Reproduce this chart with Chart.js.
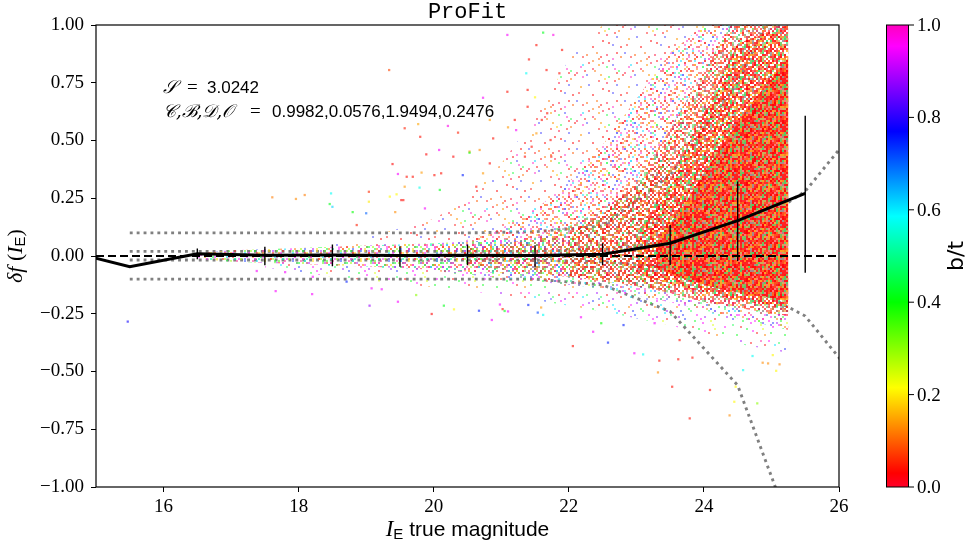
<!DOCTYPE html>
<html><head><meta charset="utf-8">
<script src="https://cdn.jsdelivr.net/npm/chart.js@4.4.0/dist/chart.umd.min.js"></script>
<style>html,body{margin:0;padding:0;background:#fff}#wrap{width:975px;height:542px;position:relative}</style>
</head><body><div id="wrap"><canvas id="c"></canvas></div>
<script>
// ---------------- data ----------------
const xTicks = [16, 18, 20, 22, 24, 26];
const yTicks = [-1, -0.75, -0.5, -0.25, 0, 0.25, 0.5, 0.75, 1];
const yTickLabels = ['\u22121.00','\u22120.75','\u22120.50','\u22120.25','0.00','0.25','0.50','0.75','1.00'];
const cbTicks = [0, 0.2, 0.4, 0.6, 0.8, 1.0];
const cbTickLabels = ['0.0','0.2','0.4','0.6','0.8','1.0'];

// running median of delta f per magnitude bin
const medianMag = [14.5, 15.5, 16.5, 17.5, 18.5, 19.5, 20.5, 21.5, 22.5, 23.5, 24.5, 25.5];
const medianDf  = [0.026, -0.046, 0.010, 0.003, 0.004, 0.002, 0.003, 0.002, 0.008, 0.055, 0.153, 0.271];
// error bars
const errMag = [16.5, 17.5, 18.5, 19.5, 20.5, 21.5, 22.5, 23.5, 24.5, 25.5];
const errHi  = [0.033, 0.040, 0.050, 0.042, 0.050, 0.046, 0.055, 0.134, 0.322, 0.607];
const errLo  = [-0.014, -0.040, -0.044, -0.047, -0.040, -0.050, -0.039, -0.039, -0.022, -0.072];
// dotted percentile curves
const pctMag  = [15.5, 16.5, 17.5, 18.5, 19.5, 20.5, 21.5, 22.5, 23.5, 24.5, 25.5, 26.5];
const outerUp = [0.10, 0.10, 0.10, 0.10, 0.10, 0.10, 0.105, 0.13, 0.35, 0.75, 1.35, 2.0];
const innerUp = [0.02, 0.02, 0.02, 0.02, 0.02, 0.02, 0.02, 0.03, 0.06, 0.09, 0.28, 0.64];
const innerLo = [-0.017, -0.017, -0.017, -0.017, -0.017, -0.017, -0.018, -0.025, -0.05, -0.105, -0.26, -0.62];
const outerLo = [-0.10, -0.10, -0.10, -0.10, -0.10, -0.10, -0.10, -0.125, -0.24, -0.56, -1.35, -2.1];
// zero reference
const refMag = [15, 26];
const refDf  = [0, 0];

// density envelopes of the point cloud
const haloUpMag = [18.5, 19, 20, 20.5, 21, 21.5, 22, 22.5, 25.25];
const haloUpTop = [0.05, 0.08, 0.16, 0.25, 0.40, 0.60, 0.85, 1.0, 1.0];
const haloLoMag = [17.5, 18.5, 19.5, 20.5, 21.5, 22.5, 23.5, 24.5, 25.25];
const haloLoBot = [-0.05, -0.09, -0.12, -0.15, -0.19, -0.24, -0.30, -0.38, -0.42];
const medUpMag = [20, 20.5, 21, 21.5, 22, 22.5, 23, 23.5, 24, 25.25];
const medUpTop = [0.04, 0.07, 0.12, 0.20, 0.32, 0.48, 0.68, 0.88, 1.0, 1.0];
const medLoMag = [19.5, 20.5, 21.5, 22.5, 23.5, 24.5, 25.25];
const medLoBot = [-0.05, -0.08, -0.11, -0.14, -0.20, -0.27, -0.32];
const stripMag = [16.5, 17, 18, 19, 20, 21, 22];
const stripTop = [0.012, 0.025, 0.035, 0.045, 0.055, 0.07, 0.09];
const stripBot = [-0.012, -0.025, -0.035, -0.045, -0.06, -0.075, -0.09];
const mixMag = [20.5, 21, 21.5, 22, 22.5, 23, 23.5];
const mixTop = [0.035, 0.05, 0.08, 0.13, 0.20, 0.30, 0.45];
const mixBot = [-0.04, -0.06, -0.075, -0.09, -0.11, -0.13, -0.15];
const denseMag = [22, 22.5, 23, 23.5, 24, 24.4, 25.25];
const denseTop = [0.10, 0.18, 0.32, 0.55, 0.80, 1.0, 1.0];
const denseBot = [-0.09, -0.10, -0.13, -0.16, -0.20, -0.22, -0.26];
const dense2Mag = [23, 23.5, 24, 24.5, 25.25];
const dense2Top = [0.10, 0.32, 0.62, 0.92, 1.0];
const dense2Bot = [-0.08, -0.12, -0.16, -0.19, -0.23];
const coreMag = [23.3, 23.7, 24.2, 24.7, 25.25];
const coreTop = [0.06, 0.22, 0.45, 0.66, 0.86];
const coreBot = [-0.05, -0.10, -0.14, -0.17, -0.19];

// individually visible outlier points (magnitude, delta f, b/t)
const ptsMag = [15.47,17.61,17.96,18.09,18.48,18.46,18.50,18.80,18.86,19.00,19.04,19.04,19.34,19.39,19.47,19.45,19.43,19.52,19.57,19.57,
 19.77,19.80,19.89,19.79,19.87,20.01,20.09,20.21,20.36,20.29,20.43,20.53,20.63,20.73,20.83,20.73,20.08,20.53,20.83,21.09,
 21.10,21.20,21.39,21.50,21.67,21.77,21.90,21.86,21.37,20.88,20.68,20.11,19.60,19.82,19.35,19.55,19.69,21.39,21.22,21.52,
 21.60,21.68,21.73,21.74,21.35,21.45,21.09,21.41,21.52,21.62,
 17.66,18.20,19.05,19.47,19.74,19.97,20.15,20.30,20.67,20.86,20.98,21.02,21.10,21.40,21.54,21.59,17.80,17.38,18.71,18.21,
 19.08,19.23,21.05,21.62,22.06,22.18,22.36,22.48,22.58,22.81,22.97,23.10,23.27,23.34,23.32,23.53,23.62,23.64,23.79,23.83,
 24.09,24.38,24.45,24.58,24.79,24.87,24.95,25.02,25.07,25.12,24.72,24.47];
const ptsDf = [-0.284,0.254,0.247,0.264,0.271,0.225,0.213,0.190,0.134,0.185,0.278,0.235,0.805,0.398,0.355,0.267,0.190,0.242,0.300,0.553,
 0.571,0.516,0.440,0.296,0.206,0.350,0.286,0.563,0.534,0.430,0.350,0.452,0.300,0.358,0.401,0.685,0.459,0.447,0.589,0.711,
 0.557,0.589,0.719,0.687,0.805,0.957,0.892,0.791,0.791,0.509,0.459,0.358,0.343,0.361,0.257,0.242,0.343,0.646,0.545,0.531,
 0.589,0.618,0.502,0.430,0.430,0.473,0.957,0.851,0.913,0.967,
 -0.152,-0.165,-0.215,-0.198,-0.169,-0.251,-0.215,-0.231,-0.237,-0.277,-0.210,-0.230,-0.240,-0.212,-0.245,-0.223,-0.070,-0.065,-0.111,-0.090,
 -0.140,-0.144,-0.238,-0.255,-0.390,-0.265,-0.328,-0.291,-0.375,-0.299,-0.421,-0.426,-0.291,-0.453,-0.504,-0.566,-0.447,-0.364,-0.703,-0.440,
 -0.580,-0.690,-0.631,-0.494,-0.638,-0.462,-0.465,-0.429,-0.497,-0.469,-0.433,-0.566];
const ptsBt = [0.78,0.12,0.13,0.12,0.58,0.42,0.62,0.40,0.05,0.70,0.06,0.20,0.08,0.03,0.95,0.21,0.13,0.03,0.14,0.05,
 0.15,0.04,0.03,0.57,0.95,0.04,0.42,0.97,0.05,0.03,0.75,0.14,0.04,0.14,0.03,0.95,0.95,0.40,0.14,0.04,
 0.14,0.04,0.04,0.21,0.04,0.97,0.04,0.04,0.58,0.04,0.13,0.04,0.04,0.14,0.21,0.04,0.04,0.04,0.95,0.14,
 0.04,0.04,0.04,0.04,0.04,0.04,0.95,0.04,0.04,0.42,
 0.95,0.95,0.88,0.95,0.30,0.03,0.42,0.21,0.75,0.95,0.95,0.04,0.95,0.75,0.72,0.14,0.95,0.95,0.75,0.95,
 0.95,0.95,0.42,0.58,0.04,0.95,0.95,0.40,0.75,0.75,0.95,0.58,0.95,0.04,0.13,0.04,0.04,0.04,0.04,0.04,
 0.04,0.13,0.21,0.58,0.30,0.13,0.13,0.21,0.21,0.13,0.58,0.21];

// ---------------- styling helpers ----------------
const CMAP = [[0,[255,0,41]],[0.03,[255,0,0]],[0.215,[255,255,0]],[0.4,[0,255,0]],[0.586,[0,255,255]],[0.77,[0,0,255]],[0.954,[255,0,255]],[1,[255,0,191]]];
function cmap(v, a) {
  v = Math.max(0, Math.min(1, v));
  for (let i = 1; i < CMAP.length; i++) {
    if (v <= CMAP[i][0]) {
      const [v0, c0] = CMAP[i-1], [v1, c1] = CMAP[i];
      const t = (v - v0) / (v1 - v0);
      const c = c0.map((k, j) => Math.round(k + (c1[j] - k) * t));
      return `rgba(${c[0]},${c[1]},${c[2]},${a})`;
    }
  }
  return `rgba(255,0,191,${a})`;
}
// texture tile (ordered-dither rank map) used as fill style for the dense cloud
const DITHER = [
"731958204617392850461738","259160837425816073942561","046823519704352981670392","813570462981647035289147",
"527094381356092846713508","960341725840273519064283","382617950162938407521679","145829036497501263848015",
"698053174820369751032946","270438619354187029567381","831765240976243581906527","456902813018659473125094",
"029184567643721836490863","763520931289045162738210","518047623751386904265749","394816072934510728157036",
"087253148620974351809462","641309785173268049372185","925671034586412793640518","370948251407835126983427",
"812365907249601538514093","563720489631957204268751","209483176058342967031649","748196320875123480957302"];
function makePattern(pal, dens, alpha, bg) {
  const n = DITHER.length, cell = 2;
  const cv = document.createElement('canvas'); cv.width = cv.height = n * cell;
  const g = cv.getContext('2d');
  if (bg) { g.fillStyle = bg; g.fillRect(0, 0, cv.width, cv.height); }
  g.globalAlpha = alpha;
  const full = Math.floor(dens), frac = dens - full;
  for (let r = 0; r < n; r++) for (let q = 0; q < n; q++) {
    const rank = (DITHER[r].charCodeAt(q) || 57) - 48;
    const on = rank < full || (rank === full && ((r * 3 + q * 7) % 10) / 10 < frac);
    if (!on) continue;
    g.fillStyle = pal[(r * 5 + q * 3 + rank * 7) % pal.length];
    g.fillRect(q * cell, r * cell, cell, cell);
  }
  return g.createPattern(cv, 'repeat');
}
const palRed   = ['#ff2424','#ff3b3b','#ff6a1a','#ff9a10','#ff2a50','#ffd020','#3cff5a','#22dcff','#ff2424','#ff40d0','#5a5aff','#ff3030','#ff8020','#ff1e1e'];
const palLow   = ['#ff20ff','#b030ff','#3c50ff','#20e8ff','#40ff70','#ff40b0','#7070ff','#e0ff30','#ff3030','#30ff40','#ff30ff','#6030ff','#ff9020'];
const palBright= ['#20ff40','#ff30ff','#20e0ff','#4060ff','#ffe020','#ff8020','#ff3030','#60ff30','#c030ff','#00ffb0','#ff40a0','#a0ff20'];
const palMix   = ['#ff2a2a','#ff8a20','#ffd020','#40ff50','#ff3030','#20d0ff','#ff40d0','#ff6020','#909090','#ff2020','#a0ff30','#5050ff','#ff3a3a','#ffa020'];
const palCore  = ['#ff1010','#ff2020','#ff0a0a','#ff5020','#ff9020','#ff1a1a','#c0c060','#70d060','#ff2828','#999999','#ff6a20','#ff0000','#ffb020','#ff1414','#40e070','#ff3030'];

const xy = (xs, ys) => xs.map((x, i) => ({ x: x, y: ys[i] }));
const NONE = 'rgba(0,0,0,0)';
function fillLine(xs, ys, pattern, fill, order) {
  return { type: 'line', data: xy(xs, ys), fill: fill, backgroundColor: pattern, borderColor: NONE,
           borderWidth: 0, pointRadius: 0, order: order, tension: 0 };
}
function bandPair(xs, top, bot, pattern, order) {
  return [fillLine(xs, top, pattern, '+1', order), fillLine(xs, bot, NONE, false, order)];
}
function dotted(ys) {
  return { type: 'line', data: xy(pctMag, ys), borderColor: '#808080', borderWidth: 2.9,
           borderDash: [2.9, 4.0], pointRadius: 0, fill: false, order: 100, tension: 0 };
}
const errData = [];
errMag.forEach((m, i) => { errData.push({ x: m, y: errLo[i] }, { x: m, y: errHi[i] }, { x: m, y: null }); });

const datasets = [
  dotted(outerUp), dotted(innerUp), dotted(innerLo), dotted(outerLo),
  fillLine(haloUpMag, haloUpTop, makePattern(palRed, 0.7, 0.55), { value: 0 }, 90),
  fillLine(haloLoMag, haloLoBot, makePattern(palLow, 0.8, 0.55), { value: 0 }, 89),
  fillLine(medUpMag, medUpTop, makePattern(palRed, 2.8, 0.55), { value: 0 }, 80),
  fillLine(medLoMag, medLoBot, makePattern(palLow.concat(['#ff3030','#ff8020','#40ff50']), 2.4, 0.55), { value: 0 }, 79),
  ...bandPair(stripMag, stripTop, stripBot, makePattern(palBright, 3.5, 0.6), 70),
  ...bandPair(mixMag, mixTop, mixBot, makePattern(palMix, 5, 0.6), 60),
  ...bandPair(denseMag, denseTop, denseBot, makePattern(palCore, 5.2, 0.62), 50),
  ...bandPair(dense2Mag, dense2Top, dense2Bot, makePattern(palCore, 7.8, 0.7), 45),
  ...bandPair(coreMag, coreTop, coreBot, makePattern(palCore, 9, 0.8, 'rgba(255,25,25,0.6)'), 40),
  { type: 'scatter', data: xy(ptsMag, ptsDf), backgroundColor: ptsBt.map(b => cmap(b, 0.6)), borderWidth: 0,
    pointStyle: 'rect', pointRadius: 1.6, order: 20 },
  { type: 'line', data: xy(refMag, refDf), borderColor: '#000', borderWidth: 2, borderDash: [8, 4],
    pointRadius: 0, fill: false, order: 10 },
  { type: 'line', data: errData, borderColor: '#000', borderWidth: 1.4, pointRadius: 0, fill: false,
    spanGaps: false, order: 5 },
  { type: 'line', data: xy(medianMag, medianDf), borderColor: '#000', borderWidth: 3, pointRadius: 0,
    fill: false, order: 1, tension: 0 }
];

// ---------------- decorations ----------------
function runs(ctx, x, y, parts, align) {
  let w = 0;
  parts.forEach(p => { ctx.font = p.f; p.w = ctx.measureText(p.t).width; w += p.w; });
  let cx = align === 'center' ? x - w / 2 : x;
  ctx.textAlign = 'left';
  parts.forEach(p => { ctx.font = p.f; ctx.fillText(p.t, cx, y + (p.dy || 0)); cx += p.w; });
}
const deco = {
  id: 'deco',
  afterDraw(chart) {
    const ctx = chart.ctx, a = chart.chartArea;
    ctx.save();
    // spines
    ctx.strokeStyle = '#000'; ctx.lineWidth = 1.2;
    ctx.strokeRect(a.left, a.top, a.right - a.left, a.bottom - a.top);
    ctx.fillStyle = '#000'; ctx.textBaseline = 'alphabetic';
    // title
    ctx.font = '22px "Liberation Mono"'; ctx.textAlign = 'center';
    ctx.fillText('ProFit', (a.left + a.right) / 2, 18);
    // annotation
    ctx.textAlign = 'left';
    ctx.font = 'italic 18px "DejaVu Serif"'; ctx.fillText('\u{1D4AE}', 163, 93);
    ctx.font = '19px "Liberation Serif"'; ctx.fillText('=', 187, 93);
    ctx.font = '17px "Liberation Sans"'; ctx.fillText('3.0242', 207, 93);
    ctx.font = 'italic 18px "DejaVu Serif"'; ctx.fillText('\u{1D49E},\u212C,\u{1D49F},\u{1D4AA}', 163, 117);
    ctx.font = '19px "Liberation Serif"'; ctx.fillText('=', 250, 117);
    ctx.font = '17px "Liberation Sans"'; ctx.fillText('0.9982,0.0576,1.9494,0.2476', 272, 117);
    // x label
    runs(ctx, (a.left + a.right) / 2, 536, [
      { t: 'I', f: 'italic 23px "Liberation Serif"' },
      { t: 'E', f: '15px "Liberation Sans"', dy: 3 },
      { t: ' true magnitude', f: '21px "Liberation Sans"' }], 'center');
    // y label
    ctx.save(); ctx.translate(22, (a.top + a.bottom) / 2); ctx.rotate(-Math.PI / 2);
    runs(ctx, 0, 0, [
      { t: '\u03B4f', f: 'italic 22px "Liberation Serif"' },
      { t: ' (', f: '22px "Liberation Serif"' },
      { t: 'I', f: 'italic 22px "Liberation Serif"' },
      { t: 'E', f: '15px "Liberation Sans"', dy: 3 },
      { t: ')', f: '22px "Liberation Serif"' }], 'center');
    ctx.restore();
    // colorbar
    const cb = chart.scales.cb;
    const yT = cb.getPixelForValue(1), yB = cb.getPixelForValue(0);
    const x0 = 886, x1 = 909;
    const grad = ctx.createLinearGradient(0, yB, 0, yT);
    CMAP.forEach(([v]) => grad.addColorStop(v, cmap(v, 1)));
    ctx.fillStyle = grad; ctx.fillRect(x0, yT, x1 - x0, yB - yT);
    ctx.strokeStyle = '#000'; ctx.lineWidth = 1; ctx.strokeRect(x0 + 0.5, yT, x1 - x0 - 1, yB - yT);
    ctx.fillStyle = '#000'; ctx.font = '19px "Liberation Serif"'; ctx.textBaseline = 'middle'; ctx.textAlign = 'left';
    cbTicks.forEach((v, i) => {
      const y = cb.getPixelForValue(v);
      ctx.beginPath(); ctx.moveTo(x1, y); ctx.lineTo(x1 + 5, y); ctx.stroke();
      ctx.fillText(cbTickLabels[i], x1 + 8, y + 1);
    });
    ctx.save(); ctx.translate(963, (yT + yB) / 2); ctx.rotate(-Math.PI / 2);
    ctx.textAlign = 'center'; ctx.textBaseline = 'alphabetic'; ctx.font = '22px "DejaVu Sans"';
    ctx.fillText('b/t', 0, 0); ctx.restore();
    ctx.restore();
  }
};

Chart.defaults.font.family = '"Liberation Serif"';
Chart.defaults.font.size = 19;
Chart.defaults.color = '#000';

new Chart(document.getElementById('c'), {
  type: 'scatter',
  data: { datasets: datasets },
  options: {
    responsive: true, maintainAspectRatio: false, animation: false,
    layout: { padding: { left: 0, right: 136, top: 25, bottom: 0 } },
    plugins: { legend: { display: false }, tooltip: { enabled: false }, title: { display: false } },
    scales: {
      x: { type: 'linear', min: 15, max: 26,
           afterBuildTicks: s => { s.ticks = xTicks.map(v => ({ value: v })); },
           afterFit: s => { s.height = 55; },
           ticks: { padding: 4, maxRotation: 0, autoSkip: false, callback: v => String(v), font: { size: 19 } },
           grid: { display: true, drawOnChartArea: false, drawTicks: true, tickLength: 5, tickColor: '#000', tickWidth: 1 },
           border: { display: false } },
      y: { type: 'linear', min: -1, max: 1,
           afterBuildTicks: s => { s.ticks = yTicks.map(v => ({ value: v })); },
           afterFit: s => { s.width = 96; },
           ticks: { padding: 7, autoSkip: false, callback: v => yTickLabels[yTicks.indexOf(v)], font: { size: 19 } },
           grid: { display: true, drawOnChartArea: false, drawTicks: true, tickLength: 5, tickColor: '#000', tickWidth: 1 },
           border: { display: false } },
      cb: { type: 'linear', display: false, position: 'right', min: 0, max: 1 }
    }
  },
  plugins: [deco]
});
</script></body></html>
